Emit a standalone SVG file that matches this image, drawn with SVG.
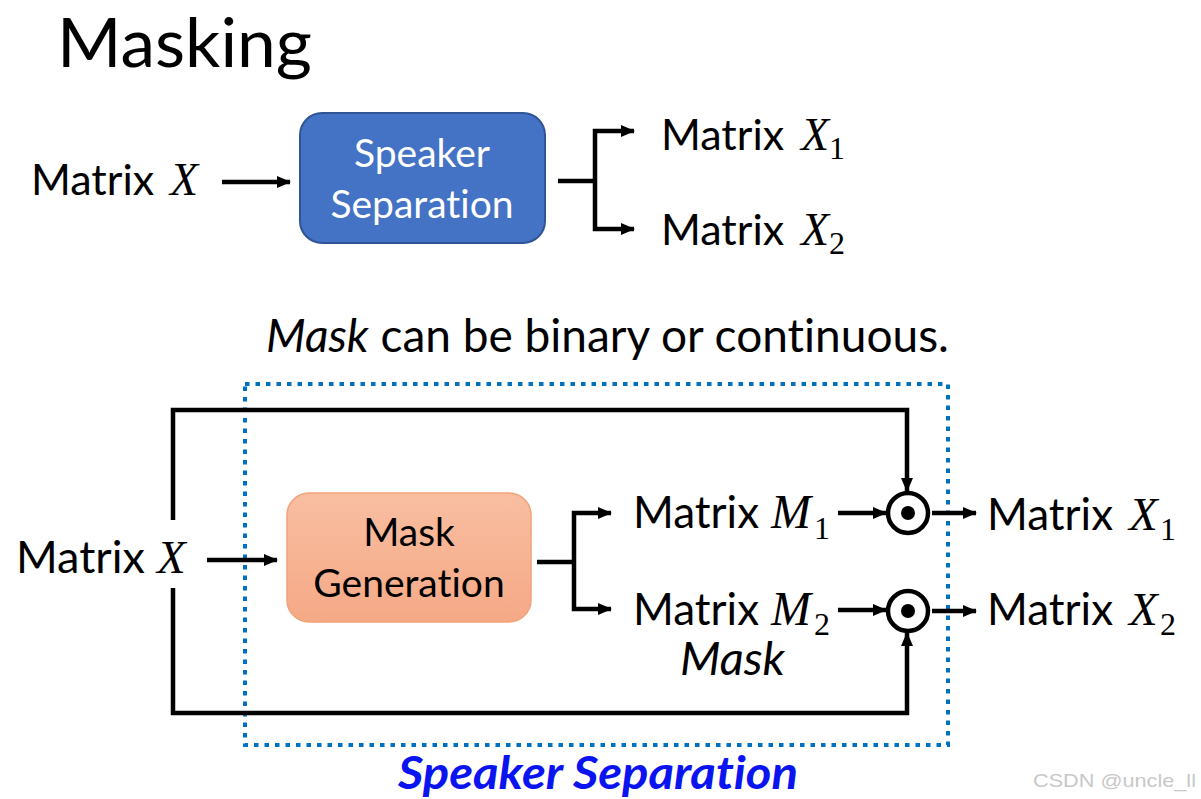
<svg xmlns="http://www.w3.org/2000/svg" width="1201" height="799" viewBox="0 0 1201 799">
<style>
text{font-variant-ligatures:none}
.s{font-family:Lato,"Open Sans","Liberation Sans",sans-serif;fill:#000;font-variant-ligatures:none}
.m{font-family:"Liberation Serif","DejaVu Serif",serif;font-style:italic}
.sub{font-family:"Liberation Serif","DejaVu Serif",serif;font-size:32px}
.ln{fill:none;stroke:#000;stroke-width:4.5;stroke-linejoin:miter}
.arr{marker-end:url(#ah)}
</style>
<defs>
<marker id="ah" markerUnits="userSpaceOnUse" markerWidth="14" markerHeight="14" viewBox="0 0 14 14" refX="13" refY="7" orient="auto">
<path d="M0,1 L14,7 L0,13 z" fill="#000"/>
</marker>
<linearGradient id="og" x1="0" y1="0" x2="0" y2="1">
<stop offset="0" stop-color="#F9BEA1"/>
<stop offset="1" stop-color="#F5A986"/>
</linearGradient>
</defs>
<rect width="1201" height="799" fill="#fff"/>

<text class="s" x="57" y="67" font-size="67" textLength="255" lengthAdjust="spacingAndGlyphs">Masking</text>

<g id="top-input"><text class="s" y="195" font-size="43"><tspan x="31">Matrix</tspan><tspan class="m" x="170" font-size="46">X</tspan></text></g>

<g id="speaker-separation-box">
<rect x="300" y="113" width="245" height="130" rx="22" fill="#4472C4" stroke="#2F5597" stroke-width="2"/>
<text class="s" font-size="39" style="fill:#fff" text-anchor="middle"><tspan x="422" y="167">Speaker</tspan><tspan x="422" y="218">Separation</tspan></text>
</g>

<g id="top-out1"><text class="s" y="150" font-size="43"><tspan x="661">Matrix</tspan><tspan class="m" x="801" font-size="46">X</tspan><tspan class="sub" x="829" y="159">1</tspan></text></g>
<g id="top-out2"><text class="s" y="245" font-size="43"><tspan x="661">Matrix</tspan><tspan class="m" x="801" font-size="46">X</tspan><tspan class="sub" x="829" y="254">2</tspan></text></g>

<text class="s" x="266" y="352" font-size="46"><tspan font-style="italic">Mask</tspan> can be binary or continuous.</text>

<g id="speaker-separation-group">
<rect x="245" y="384" width="703" height="361" fill="none" stroke="#0070C0" stroke-width="4" stroke-dasharray="4.5 6"/>
<text x="398" y="789" font-family="Lato,'Open Sans',sans-serif" font-weight="bold" font-style="italic" font-size="46" fill="#0A14F0" textLength="400" lengthAdjust="spacingAndGlyphs">Speaker Separation</text>
</g>

<g id="bottom-input"><text class="s" y="573" font-size="45"><tspan x="16">Matrix</tspan><tspan class="m" x="157" font-size="47">X</tspan></text></g>

<g id="mask-generation-box">
<rect x="287" y="493" width="244" height="129" rx="22" fill="url(#og)" stroke="#F2A27A" stroke-width="1.5"/>
<text class="s" font-size="39" text-anchor="middle"><tspan x="409" y="546">Mask</tspan><tspan x="409" y="597">Generation</tspan></text>
</g>

<g id="mask-m1"><text class="s" y="528" font-size="44"><tspan x="633">Matrix</tspan><tspan class="m" x="771" font-size="48">M</tspan><tspan class="sub" x="814" y="539">1</tspan></text></g>
<g id="mask-m2"><text class="s" y="625" font-size="44"><tspan x="633">Matrix</tspan><tspan class="m" x="771" font-size="48">M</tspan><tspan class="sub" x="814" y="635">2</tspan></text></g>
<g id="mask-label"><text class="s" x="680" y="675" font-size="47" font-style="italic">Mask</text></g>

<g id="odot1"><circle cx="908" cy="513" r="20" fill="#fff" stroke="#000" stroke-width="4.5"/><circle cx="908" cy="513" r="7" fill="#000"/></g>
<g id="odot2"><circle cx="908" cy="611" r="20" fill="#fff" stroke="#000" stroke-width="4.5"/><circle cx="908" cy="611" r="7" fill="#000"/></g>

<g id="out-x1"><text class="s" y="530" font-size="44"><tspan x="987">Matrix</tspan><tspan class="m" x="1129" font-size="47">X</tspan><tspan class="sub" x="1160" y="540">1</tspan></text></g>
<g id="out-x2"><text class="s" y="625" font-size="44"><tspan x="987">Matrix</tspan><tspan class="m" x="1129" font-size="47">X</tspan><tspan class="sub" x="1160" y="635">2</tspan></text></g>

<g id="connectors">
<path class="ln arr" d="M222,182 H290"/>
<path class="ln" d="M558,181 H595"/>
<path class="ln arr" d="M595,181 V131 H634"/>
<path class="ln arr" d="M595,181 V229 H634"/>
<path class="ln arr" d="M207,560 H277"/>
<path class="ln arr" d="M173,520 V410 H907 V491"/>
<path class="ln arr" d="M173,588 V713 H907 V633"/>
<path class="ln" d="M537,562 H574"/>
<path class="ln arr" d="M574,562 V513 H611"/>
<path class="ln arr" d="M574,562 V609 H611"/>
<path class="ln arr" d="M838,513 H886"/>
<path class="ln arr" d="M838,610 H886"/>
<path class="ln arr" d="M932,513 H976"/>
<path class="ln arr" d="M932,611 H976"/>
</g>

<text x="1033" y="787" font-family="'Liberation Sans',sans-serif" font-size="19" fill="#C8C8C8" textLength="163" lengthAdjust="spacingAndGlyphs">CSDN @uncle_ll</text>
</svg>
